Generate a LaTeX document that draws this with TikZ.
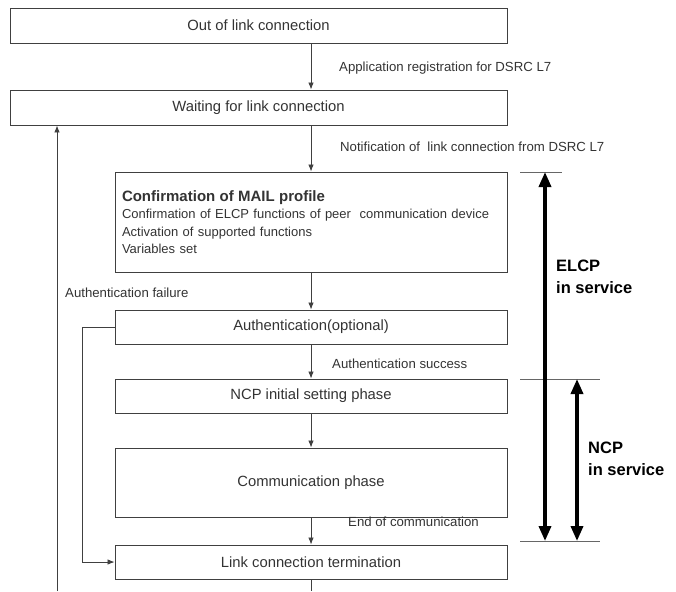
\documentclass[tikz,border=0pt]{standalone}
\usepackage{fontspec}
\setmainfont{Liberation Sans}
\usetikzlibrary{arrows.meta,positioning}

\begin{document}
\begin{tikzpicture}[x=1pt,y=-1pt,
    box/.style={draw=black!75,line width=0.9pt,minimum height=35pt,inner sep=0pt,
      font=\fontsize{14.8}{17}\selectfont,text=black!80},
    widebox/.style={box,minimum width=497pt},
    narrowbox/.style={box,minimum width=392pt},
    flow/.style={draw=black!75,line width=0.8pt,-{Latex[length=7pt,width=5.5pt]}},
    lbl/.style={anchor=west,inner sep=0pt,font=\fontsize{13.2}{15}\selectfont,text=black!80},
    span/.style={line width=3.5pt,{Triangle[length=15pt,width=12pt]}-{Triangle[length=15pt,width=12pt]}},
    tick/.style={draw=black!60,line width=0.8pt},
    svc/.style={anchor=west,align=left,inner sep=0pt,font=\bfseries\fontsize{16.5}{22}\selectfont}]
    \useasboundingbox (0,0) rectangle (676,591);

    % draw the state boxes
    \node[widebox] (outlink) at (258.5,25.5) {Out of link connection};
    \node[widebox] (waiting) at (258.5,107.5) {Waiting for link connection};
    \node[box,minimum height=100pt,inner xsep=7pt,text width=378pt,align=left,
      font=\fontsize{13}{17.5}\selectfont] (mail) at (311,222)
      {{\bfseries\fontsize{15}{16}\selectfont Confirmation of MAIL profile}\\
       Confirmation of ELCP functions of peer\ \ communication device\\
       Activation of supported functions\\
       Variables set\\[6pt]};
    \node[narrowbox,minimum height=34pt] (auth) at (311,327) {Authentication(optional)};
    \node[narrowbox,minimum height=34pt] (ncpinit) at (311,396) {NCP initial setting phase};
    \node[narrowbox,minimum height=69pt] (comm) at (311,482.5) {Communication phase};
    \node[narrowbox,minimum height=34pt] (term) at (311,562) {Link connection termination};

    % free ends at the bottom edge
    \coordinate (loopin) at (57,591);
    \coordinate (exit) at (term.south |- loopin);
    \coordinate (failx) at (82,0);

    % draw the main flow
    \draw[flow] (outlink.south -| mail) -- (waiting.north -| mail);
    \draw[flow] (waiting.south -| mail) -- (mail.north);
    \draw[flow] (mail) -- (auth);
    \draw[flow] (auth) -- (ncpinit);
    \draw[flow] (ncpinit) -- (comm);
    \draw[flow] (comm) -- (term);
    \draw[draw=black!75,line width=0.8pt] (term.south) -- (exit);

    % draw the return paths
    \draw[flow] (loopin) -- (loopin |- waiting.south);
    \draw[flow] (auth.west) -- (auth.west -| failx) -- (term.west -| failx) -- (term.west);

    % label the transitions
    \node[lbl] (appreg) at (339,68) {Application registration for DSRC L7};
    \node[lbl] (notif) at (340,147) {Notification of\ \ link connection from DSRC L7};
    \node[lbl] (authfail) at (65,293) {Authentication failure};
    \node[lbl] (authok) at (332,364) {Authentication success};
    \node[lbl] (endcomm) at (348,522) {End of communication};

    % draw the service ranges
    \coordinate (elcptop) at (520,172);
    \coordinate (ncptop) at (520,379);
    \coordinate (svcend) at (520,541);
    \draw[tick] (elcptop) -- ++(42,0);
    \draw[tick] (ncptop) -- ++(80,0);
    \draw[tick] (svcend) -- ++(80,0);
    \draw[span] ([xshift=25pt]elcptop) -- ([xshift=25pt]svcend);
    \draw[span] ([xshift=57pt]ncptop) -- ([xshift=57pt]svcend);

    % label the ranges
    \node[svc] (elcp) at (556,277) {ELCP\\in service};
    \node[svc] (ncp) at (588,459) {NCP\\in service};
\end{tikzpicture}
\end{document}
